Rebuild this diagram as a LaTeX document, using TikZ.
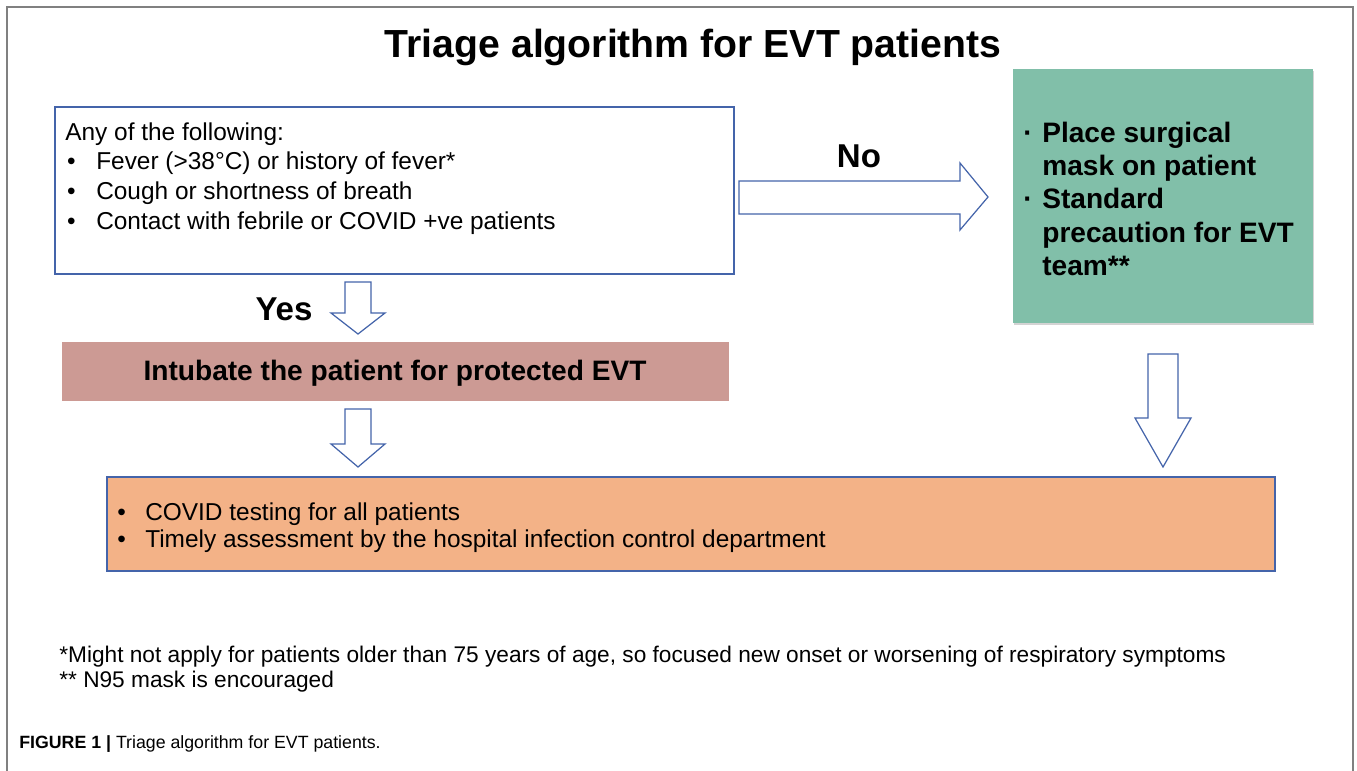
\documentclass[tikz,border=0pt]{standalone}
\usepackage{fontspec}
\setmainfont{Liberation Sans}
\usepackage{tikz}
\usetikzlibrary{fit,shadows}
\definecolor{boxblue}{RGB}{68,100,170}
\definecolor{maskgreen}{RGB}{129,191,169}
\definecolor{intubpink}{RGB}{204,154,148}
\definecolor{testorange}{RGB}{243,178,135}
\definecolor{framegray}{RGB}{128,128,128}
\tikzset{
	frame/.style={draw=framegray,line width=0.6pt},
	plain/.style={inner sep=0pt,anchor=base west,align=left},
	titletext/.style={inner sep=0pt,anchor=base,font=\bfseries\fontsize{22.3}{26}\selectfont},
	answer/.style={inner sep=0pt,anchor=base,font=\bfseries\fontsize{18.8}{22}\selectfont},
	qbox/.style={draw=boxblue,line width=0.7pt,inner sep=0pt},
	gbox/.style={fill=maskgreen,inner sep=0pt,drop shadow={shadow xshift=0.6pt,shadow yshift=-1.4pt,opacity=0.35}},
	pbox/.style={fill=intubpink,inner sep=0pt},
	obox/.style={fill=testorange,draw=boxblue,line width=0.6pt,inner sep=0pt},
	barrow/.style={draw=boxblue,fill=white,line width=0.7pt,line join=miter}
}
\begin{document}
\begin{tikzpicture}[x=0.02cm,y=-0.02cm]
	\useasboundingbox (0,0) rectangle (1357,771);
	\draw [frame] (7,771) -- (7,7) -- (1353,7) -- (1353,771);

	\node [titletext] (title) at (693,57) {Triage algorithm for EVT patients};

	\node [qbox,fit={(55,107) (734,274)}] (cond) {};
	\node [plain,font=\fontsize{13.9}{17}\selectfont] (condtxt) at (65,140) {\begin{tabular}[t]{@{\hspace{1pt}}p{16.6pt}@{}l@{}}
		\multicolumn{2}{@{}l@{}}{Any of the following:}\\
		\textbullet & Fever (>38°C) or history of fever*\\
		\textbullet & Cough or shortness of breath\\
		\textbullet & Contact with febrile or COVID +ve patients
	\end{tabular}};

	\node [gbox,fit={(1013,69) (1313,323)}] (mask) {};
	\node [plain,font=\bfseries\fontsize{16}{19}\selectfont] (masktxt) at (1023,142) {\begin{tabular}[t]{@{}p{10.8pt}@{}l@{}}
		· & Place surgical\\
		  & mask on patient\\
		· & Standard\\
		  & precaution for EVT\\
		  & team**
	\end{tabular}};

	\node [pbox,fit={(62,342) (729,401)}] (intub) {};
	\node [plain,anchor=base,font=\bfseries\fontsize{16}{19}\selectfont] (intubtxt) at (395,380) {Intubate the patient for protected EVT};

	\node [obox,fit={(107,477) (1275,571)}] (test) {};
	\node [plain,font=\fontsize{13.9}{15.9}\selectfont] (testtxt) at (117,520) {\begin{tabular}[t]{@{}p{15.9pt}@{}l@{}}
		\textbullet & COVID testing for all patients\\
		\textbullet & Timely assessment by the hospital infection control department
	\end{tabular}};

	\node [answer] (no) at (859,167) {No};
	\node [answer] (yes) at (284,320) {Yes};

	\draw [barrow] (739,181) -- (960,181) -- (960,163) -- (988,197) -- (960,230) -- (960,214) -- (739,214) -- cycle;
	\draw [barrow] (345,282) -- (371,282) -- (371,313) -- (385,313) -- (358,334) -- (331,313) -- (345,313) -- cycle;
	\draw [barrow] (345,409) -- (371,409) -- (371,444) -- (385,444) -- (358,467) -- (331,444) -- (345,444) -- cycle;
	\draw [barrow] (1148,354) -- (1178,354) -- (1178,418) -- (1191,418) -- (1163,467) -- (1135,418) -- (1148,418) -- cycle;

	\node [plain,font=\fontsize{12.9}{14.7}\selectfont] (notes) at (59,662) {\begin{tabular}[t]{@{}l@{}}
		*Might not apply for patients older than 75 years of age, so focused new onset or worsening of respiratory symptoms\\
		{**} N95 mask is encouraged
	\end{tabular}};
	\node [plain,font=\fontsize{10.1}{12}\selectfont] (caption) at (19,748) {\textbf{FIGURE 1 |} Triage algorithm for EVT patients.};
\end{tikzpicture}
\end{document}
